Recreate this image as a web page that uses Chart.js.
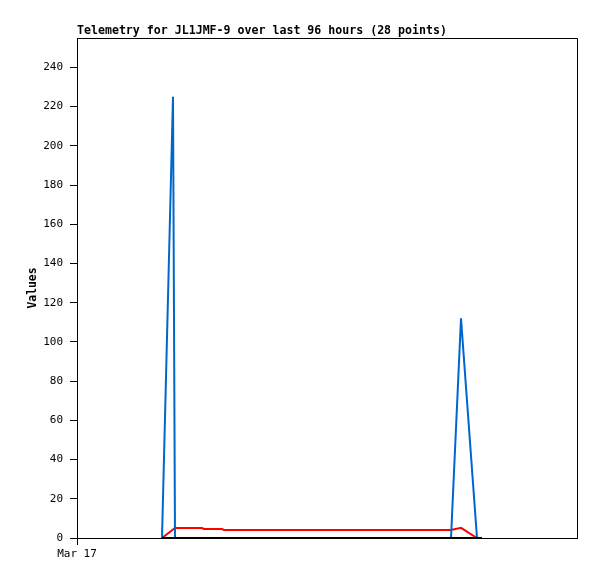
<!DOCTYPE html>
<html>
<head>
<meta charset="utf-8">
<title>Telemetry JL1JMF-9</title>
<script src="https://cdn.jsdelivr.net/npm/chart.js@4/dist/chart.umd.min.js"></script>
<style>
  html, body { margin: 0; padding: 0; background: #fff; }
  #wrap { width: 597px; height: 579px; position: relative; }
</style>
</head>
<body>
<div id="wrap"><canvas id="telemetry-chart"></canvas></div>
<script>
// Dados (horas desde Mar 17 00:00)
const chartTitle = 'Telemetry for JL1JMF-9 over last 96 hours (28 points)';
const xTickLabels = ['Mar 17'];
const xTickHours = [0];
const yTicks = [0, 20, 40, 60, 80, 100, 120, 140, 160, 180, 200, 220, 240];

const blueHours  = [17, 19.2, 19.6, 74.8, 76.8, 80, 81];
const blueValues = [0, 225, 0, 0, 112, 0, 0];

const redHours  = [17, 19.6, 25, 25.4, 29, 29.4, 74.8, 76.8, 80];
const redValues = [0, 5.1, 5.1, 4.6, 4.6, 4.1, 4.1, 5.2, 0];

const blackHours  = [17, 81];
const blackValues = [0, 0];

const monoFont = '"DejaVu Sans Mono", "Liberation Mono", monospace';

function toPoints(xs, ys) {
    return xs.map((x, i) => ({ x: x, y: ys[i] }));
}

// Moldura e título desenhados à mão
const framePlugin = {
    id: 'frame',
    afterDraw(chart) {
        const ctx = chart.ctx;
        const a = chart.chartArea;
        ctx.save();
        ctx.strokeStyle = '#000';
        ctx.lineWidth = 1;
        ctx.beginPath();
        ctx.moveTo(a.left, a.top + 0.5);
        ctx.lineTo(a.right + 0.5, a.top + 0.5);
        ctx.lineTo(a.right + 0.5, a.bottom);
        ctx.stroke();
        ctx.fillStyle = '#000';
        ctx.font = 'bold 11.6px ' + monoFont;
        ctx.textBaseline = 'alphabetic';
        ctx.textAlign = 'left';
        ctx.fillText(chartTitle, a.left, 34);
        ctx.restore();
    }
};

const ctx = document.getElementById('telemetry-chart').getContext('2d');
const telemetryChart = new Chart(ctx, {
    type: 'line',
    data: {
        datasets: [
            {
                label: 'black',
                data: toPoints(blackHours, blackValues),
                borderColor: '#000000',
                borderWidth: 2,
                order: 0
            },
            {
                label: 'blue',
                data: toPoints(blueHours, blueValues),
                borderColor: '#0066cc',
                borderWidth: 2,
                order: 1
            },
            {
                label: 'red',
                data: toPoints(redHours, redValues),
                borderColor: '#ff0000',
                borderWidth: 2,
                order: 2
            }
        ]
    },
    options: {
        responsive: true,
        maintainAspectRatio: false,
        animation: false,
        devicePixelRatio: 1,
        layout: { padding: { top: 38, right: 20, left: 0, bottom: 0 } },
        elements: {
            point: { radius: 0 },
            line: { tension: 0, fill: false, borderJoinStyle: 'miter' }
        },
        plugins: {
            legend: { display: false },
            tooltip: { enabled: false },
            title: { display: false }
        },
        scales: {
            x: {
                type: 'linear',
                min: 0,
                max: 100,
                afterBuildTicks: scale => {
                    scale.ticks = xTickHours.map(v => ({ value: v }));
                },
                afterFit: scale => { scale.height = 41; },
                ticks: {
                    color: '#000',
                    font: { family: monoFont, size: 11 },
                    padding: 3,
                    maxRotation: 0,
                    autoSkip: false,
                    callback: (v, i) => xTickLabels[i]
                },
                grid: { drawOnChartArea: false, drawTicks: true, tickLength: 7, color: '#000' },
                border: { display: true, color: '#000', width: 1 }
            },
            y: {
                min: 0,
                max: 255,
                afterBuildTicks: scale => {
                    scale.ticks = yTicks.map(v => ({ value: v }));
                },
                afterFit: scale => { scale.width = 77; },
                ticks: {
                    color: '#000',
                    font: { family: monoFont, size: 11 },
                    padding: 7
                },
                title: {
                    display: true,
                    text: 'Values',
                    color: '#000',
                    font: { family: monoFont, size: 11.4, weight: 'bold' },
                    padding: { top: 26, bottom: 0 }
                },
                grid: { drawOnChartArea: false, drawTicks: true, tickLength: 7, color: '#000' },
                border: { display: true, color: '#000', width: 1 }
            }
        }
    },
    plugins: [framePlugin]
});
</script>
</body>
</html>
